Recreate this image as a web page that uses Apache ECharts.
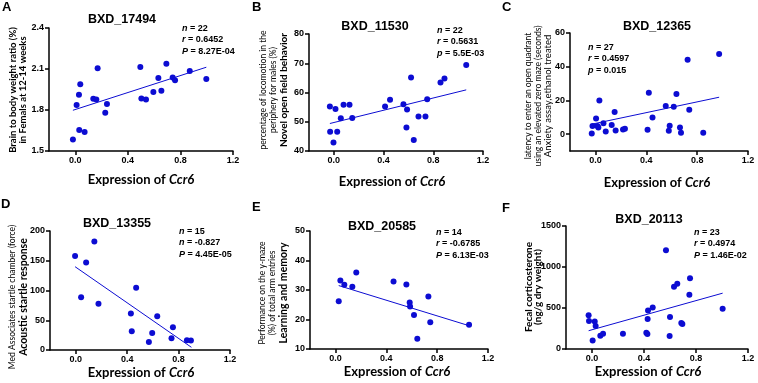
<!DOCTYPE html>
<html>
<head>
<meta charset="utf-8">
<script src="https://cdn.jsdelivr.net/npm/echarts@6/dist/echarts.min.js"></script>
<style>html,body{margin:0;padding:0;background:#fff}#main{width:758px;height:383px}</style>
</head>
<body>
<div id="main"></div>
<script>
// expression of Ccr6 on the x axis of every panel
var xTicks = [0, 0.4, 0.8, 1.2];

// A - BXD_17494
var aX = [-0.018, 0.010, 0.028, 0.038, 0.030, 0.071, 0.137, 0.160, 0.170, 0.228, 0.241, 0.495, 0.503, 0.538, 0.594, 0.632, 0.655, 0.693, 0.741, 0.759, 0.871, 0.997];
var aY = [1.585, 1.837, 1.912, 1.988, 1.654, 1.639, 1.883, 1.876, 2.105, 1.780, 1.844, 2.115, 1.885, 1.876, 1.932, 2.034, 1.941, 2.139, 2.037, 2.017, 2.085, 2.027];
var aFit = [[-0.018, 1.798], [0.997, 2.113]];
var aTicks = [1.5, 1.8, 2.1, 2.4];
var aStats = ['{i|n} = 22', '{i|r} = 0.6452', '{i|P} = 8.27E-04'];

// B - BXD_11530
var bX = [-0.032, -0.030, -0.003, 0.013, 0.027, 0.056, 0.078, 0.126, 0.148, 0.412, 0.452, 0.560, 0.584, 0.589, 0.621, 0.643, 0.681, 0.737, 0.751, 0.858, 0.890, 1.065];
var bY = [55.2, 46.6, 42.9, 54.4, 46.6, 51.2, 55.8, 55.8, 51.3, 55.2, 57.5, 56.0, 48.0, 54.2, 65.1, 43.8, 51.8, 51.8, 57.7, 63.4, 64.8, 69.4];
var bFit = [[-0.032, 49.4], [1.065, 60.9]];
var bTicks = [40, 50, 60, 70, 80];
var bStats = ['{i|n} = 22', '{i|r} = 0.5631', '{i|p} = 5.5E-03'];

// C - BXD_12365
var cX = [-0.029, -0.023, 0.005, 0.016, 0.023, 0.031, 0.063, 0.081, 0.128, 0.151, 0.159, 0.217, 0.232, 0.410, 0.420, 0.449, 0.553, 0.577, 0.584, 0.616, 0.637, 0.665, 0.673, 0.725, 0.738, 0.848, 0.973];
var cY = [0.4, 4.8, 9.3, 4.8, 4.0, 19.9, 6.4, 1.6, 5.4, 13.1, 2.2, 2.8, 3.2, 2.6, 24.6, 9.9, 16.7, 2.0, 5.0, 16.3, 23.8, 4.0, 0.8, 44.1, 14.5, 0.8, 47.5];
var cFit = [[-0.023, 6.0], [0.973, 21.9]];
var cTicks = [0, 20, 40, 60];
var cStats = ['{i|n} = 27', '{i|r} = 0.4597', '{i|p} = 0.015'];

// D - BXD_13355
var dX = [-0.005, 0.042, 0.081, 0.145, 0.177, 0.429, 0.436, 0.470, 0.569, 0.595, 0.634, 0.745, 0.756, 0.865, 0.896];
var dY = [158, 88.5, 147, 182.5, 77.7, 61.4, 31.5, 104.8, 13.5, 28.7, 56.9, 19.7, 38.3, 16.3, 15.8];
var dFit = [[-0.005, 140], [0.9, 4.5]];
var dTicks = [0, 50, 100, 150, 200];
var dStats = ['{i|n} = 15', '{i|n} = -0.827', '{i|P} = 4.45E-05'];

// E - BXD_20585
var eX = [0.026, 0.039, 0.070, 0.133, 0.164, 0.457, 0.558, 0.584, 0.587, 0.618, 0.644, 0.731, 0.746, 1.051];
var eY = [26.2, 33.2, 31.8, 31.1, 35.9, 32.9, 31.9, 25.8, 24.4, 21.5, 13.5, 27.8, 19.1, 18.2];
var eFit = [[0.026, 31.5], [1.051, 17.9]];
var eTicks = [10, 20, 30, 40, 50];
var eStats = ['{i|n} = 14', '{i|r} = -0.6785', '{i|P} = 6.13E-03'];

// F - BXD_20113
var fX = [-0.026, -0.023, 0.021, 0.028, 0.005, 0.064, 0.085, 0.238, 0.418, 0.426, 0.428, 0.431, 0.467, 0.569, 0.597, 0.600, 0.631, 0.656, 0.687, 0.695, 0.749, 0.754, 1.005];
var fY = [413, 340, 336, 280, 105, 162, 185, 186, 199, 182, 365, 470, 507, 1204, 158, 389, 758, 795, 316, 304, 661, 863, 490];
var fFit = [[-0.026, 223], [1.005, 681]];
var fTicks = [0, 500, 1000, 1500];
var fStats = ['{i|n} = 23', '{i|r} = 0.4974', '{i|P} = 1.46E-02'];

var BLUE = '#0c0cd2';
var ARIAL = 'Liberation Sans, Arial, sans-serif';
var CAL = 'Lato, sans-serif';

var panels = [
	{ letter: 'A', lp: [2, 1], title: 'BXD_17494', tp: [122, 13], x: aX, y: aY, fit: aFit, ticks: aTicks, dec: 1,
	  grid: { left: 49, top: 28, width: 184, height: 123 }, stats: aStats, sp: [182, 24],
	  ylab: [['Brain to body weight ratio (%)', 9.5, 'bold', 12.5], ['in Femals at 12-14 weeks', 9.5, 'bold', 23]], yc: 90, xn: [141, 180] },
	{ letter: 'B', lp: [252, 1], title: 'BXD_11530', tp: [375, 20], x: bX, y: bY, fit: bFit, ticks: bTicks, dec: 0,
	  grid: { left: 309, top: 34, width: 174, height: 117 }, stats: bStats, sp: [437, 26],
	  ylab: [['percentage of locomotion in the', 8.5, 'normal', 263.5], ['periphery for males (%)', 8.5, 'normal', 273], ['Novel open field behavior', 10, 'bold', 283.5]], yc: 90, xn: [392, 182] },
	{ letter: 'C', lp: [502, 1], title: 'BXD_12365', tp: [657, 20], x: cX, y: cY, fit: cFit, ticks: cTicks, dec: 0, yMin: -10,
	  grid: { left: 570, top: 33, width: 178, height: 118 }, stats: cStats, sp: [588, 43],
	  ylab: [['latency to enter an open quadrant', 8.5, 'normal', 528.5], ['using an elevated zero maze (seconds)', 8.5, 'normal', 538.5], ['Anxiety assay,ethanol treated', 9.5, 'normal', 548]], yc: 96, xn: [657, 183] },
	{ letter: 'D', lp: [1, 198], title: 'BXD_13355', tp: [117, 217], x: dX, y: dY, fit: dFit, ticks: dTicks, dec: 0,
	  grid: { left: 50, top: 231, width: 180, height: 119 }, stats: dStats, sp: [179, 227],
	  ylab: [['Med Associates startle chamber (force)', 8.5, 'normal', 12], ['Acoustic startle response', 10.5, 'bold', 23.5]], yc: 297, xn: [141, 373] },
	{ letter: 'E', lp: [252, 201], title: 'BXD_20585', tp: [382, 220], x: eX, y: eY, fit: eFit, ticks: eTicks, dec: 0,
	  grid: { left: 310, top: 231, width: 178, height: 118 }, stats: eStats, sp: [436, 228],
	  ylab: [['Performance on the y-maze', 8.5, 'normal', 262.5], ['(%) of total arm entries', 8.5, 'normal', 272.5], ['Learning and memory', 10.5, 'bold', 283.5]], yc: 293, xn: [397, 372] },
	{ letter: 'F', lp: [502, 202], title: 'BXD_20113', tp: [649, 213], x: fX, y: fY, fit: fFit, ticks: fTicks, dec: 0,
	  grid: { left: 566, top: 226, width: 182, height: 123 }, stats: fStats, sp: [694, 228],
	  ylab: [['Fecal corticosterone', 10, 'bold', 528.5], ['(ng/g dry weight)', 10, 'bold', 538]], yc: 287, xn: [648, 372] }
];

var grids = [], xAxes = [], yAxes = [], series = [], graphics = [];
var axisLine = { onZero: false, lineStyle: { color: '#000', width: 1.5 } };
var tickStyle = { color: '#000', width: 1.5 };
var labStyle = { color: '#000', fontSize: 9, fontWeight: 'bold', fontFamily: ARIAL };

panels.forEach(function(p, i) {
	grids.push(p.grid);
	xAxes.push({
		gridIndex: i, type: 'value', min: -0.2, max: 1.2,
		axisLine: axisLine,
		axisTick: { customValues: xTicks, length: 4, lineStyle: tickStyle },
		axisLabel: Object.assign({ customValues: xTicks, margin: 5, formatter: function(v) { return v.toFixed(1); } }, labStyle),
		splitLine: { show: false }
	});
	yAxes.push({
		gridIndex: i, type: 'value',
		min: p.yMin !== undefined ? p.yMin : p.ticks[0], max: p.ticks[p.ticks.length - 1],
		axisLine: axisLine,
		axisTick: { customValues: p.ticks, length: 4, lineStyle: tickStyle },
		axisLabel: Object.assign({ customValues: p.ticks, margin: 5, formatter: function(v) { return v.toFixed(p.dec); } }, labStyle),
		splitLine: { show: false }
	});
	series.push({
		type: 'scatter', xAxisIndex: i, yAxisIndex: i, symbolSize: 6,
		itemStyle: { color: BLUE, opacity: 1 },
		data: p.x.map(function(v, k) { return [v, p.y[k]]; })
	});
	series.push({
		type: 'line', xAxisIndex: i, yAxisIndex: i, symbol: 'none',
		lineStyle: { color: BLUE, width: 1 },
		data: p.fit
	});

	// panel letter and title
	graphics.push({ type: 'text', x: p.lp[0], y: p.lp[1],
		style: { text: p.letter, font: 'bold 13px ' + ARIAL, fill: '#000' } });
	graphics.push({ type: 'text', x: p.tp[0], y: p.tp[1],
		style: { text: p.title, font: 'bold 12.5px ' + ARIAL, fill: '#000', align: 'center' } });
	// statistics
	p.stats.forEach(function(s, k) {
		graphics.push({ type: 'text', x: p.sp[0], y: p.sp[1] + k * 11.5,
			style: { text: s, font: 'bold 9px ' + ARIAL, fill: '#000',
				rich: { i: { fontStyle: 'italic', fontWeight: 'bold', fontSize: 9, fontFamily: ARIAL } } } });
	});
	// y axis title lines
	p.ylab.forEach(function(l) {
		graphics.push({ type: 'text', x: l[3], y: p.yc, rotation: Math.PI / 2,
			style: { text: l[0], fontSize: l[1], fontWeight: l[2], fontFamily: CAL, fill: '#000', align: 'center', verticalAlign: 'middle' } });
	});
	// x axis title
	graphics.push({ type: 'text', x: p.xn[0], y: p.xn[1],
		style: { text: 'Expression of {i|Ccr6}', font: 'bold 13px ' + CAL, fill: '#000', align: 'center', verticalAlign: 'middle',
			rich: { i: { fontStyle: 'italic', fontWeight: 'bold', fontSize: 13, fontFamily: CAL } } } });
});

var myChart = echarts.init(document.getElementById('main'), null, { renderer: 'canvas' });
myChart.setOption({
	animation: false,
	grid: grids,
	xAxis: xAxes,
	yAxis: yAxes,
	series: series,
	graphic: graphics
});
</script>
</body>
</html>
